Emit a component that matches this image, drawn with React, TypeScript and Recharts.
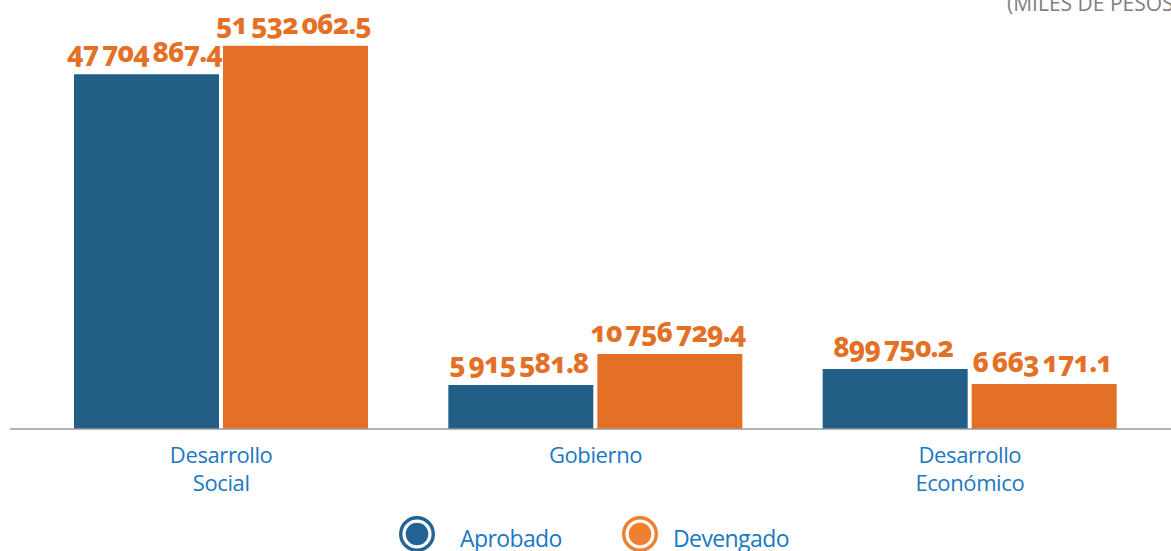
import React from 'react';
import { BarChart, Bar, XAxis, YAxis, LabelList } from 'recharts';

// Categories (x-axis), each split into its printed lines
const categories = ['Desarrollo\nSocial', 'Gobierno', 'Desarrollo\nEconómico'];
// Values printed above the bars (miles de pesos)
const aprobadoValues = [47704867.4, 5915581.8, 899750.2];
const devengadoValues = [51532062.5, 10756729.4, 6663171.1];
// Bar heights as drawn in the reference figure (the source does not draw every bar to scale)
const aprobadoBarHeights = [47704867.4, 5915581.8, 8080000];
const devengadoBarHeights = [51532062.5, 10090000, 6060000];
const seriesNames = ['Aprobado', 'Devengado'];
const unitLabel = '(MILES DE PESOS)';
const yDomainMax = 55000000;

const BLUE = '#235e87';
const ORANGE = '#e37025';
const LEGEND_BLUE = '#236494';
const LEGEND_ORANGE = '#f07f2f';
const TEXT_BLUE = '#1b78c2';

const fmt = (v: number) => {
  const [i, d] = v.toFixed(1).split('.');
  return i.replace(/\B(?=(\d{3})+(?!\d))/g, '\u2009') + '.' + d;
};

const data = categories.map((c, i) => ({
  name: c,
  aprobado: aprobadoBarHeights[i],
  devengado: devengadoBarHeights[i],
  aprobadoLabel: fmt(aprobadoValues[i]),
  devengadoLabel: fmt(devengadoValues[i]),
}));

const ValueLabel = (props: any) => {
  const { x, y, width, value } = props;
  return (
    <text
      x={x + width / 2 - 2}
      y={y - 12}
      textAnchor="middle"
      fill={ORANGE}
      fontFamily="'Noto Sans', 'Open Sans', sans-serif"
      fontWeight={800}
      fontSize={28}
      letterSpacing={-1}
      style={{ fontFeatureSettings: "'onum' 1", fontVariantNumeric: 'oldstyle-nums' }}
    >
      {value}
    </text>
  );
};

const CategoryTick = (props: any) => {
  const { x, y, payload } = props;
  const lines = String(payload.value).split('\n');
  return (
    <g>
      {lines.map((l, i) => (
        <text
          key={i}
          x={x}
          y={y + 26 + i * 28}
          textAnchor="middle"
          fill={TEXT_BLUE}
          fontFamily="'Open Sans', sans-serif"
          fontSize={22}
          letterSpacing={-0.4}
        >
          {l}
        </text>
      ))}
    </g>
  );
};

const LegendItem = ({ color, label, cx, tx }: { color: string; label: string; cx: number; tx: number }) => (
  <>
    <svg style={{ position: 'absolute', left: cx - 19, top: 534 - 19 }} width={38} height={38}>
      <circle cx={19} cy={19} r={16.3} fill="#fff" stroke={color} strokeWidth={3.4} />
      <circle cx={19} cy={19} r={11.3} fill={color} />
    </svg>
    <div
      style={{
        position: 'absolute',
        left: tx,
        top: 523,
        fontFamily: "'Open Sans', sans-serif",
        fontSize: 23,
        letterSpacing: -0.6,
        color: TEXT_BLUE,
        lineHeight: '30px',
        whiteSpace: 'nowrap',
      }}
    >
      {label}
    </div>
  </>
);

export default function App() {
  return (
    <div style={{ position: 'relative', width: 1171, height: 551, overflow: 'hidden', background: '#fff' }}>
      <style>{'body{margin:0}'}</style>
      <BarChart
        width={1171}
        height={551}
        data={data}
        margin={{ top: 20, right: 0, left: 10, bottom: 62 }}
        barGap={4}
        barSize={145}
      >
        <XAxis
          dataKey="name"
          axisLine={{ stroke: '#9a9a9a', strokeWidth: 1.5 }}
          tickLine={false}
          padding={{ left: 24, right: 14 }}
          height={60}
          interval={0}
          tick={<CategoryTick />}
        />
        <YAxis hide domain={[0, yDomainMax]} />
        <Bar dataKey="aprobado" name={seriesNames[0]} fill={BLUE} isAnimationActive={false}>
          <LabelList dataKey="aprobadoLabel" content={<ValueLabel />} />
        </Bar>
        <Bar dataKey="devengado" name={seriesNames[1]} fill={ORANGE} isAnimationActive={false}>
          <LabelList dataKey="devengadoLabel" content={<ValueLabel />} />
        </Bar>
      </BarChart>
      <div
        style={{
          position: 'absolute',
          left: 1007,
          top: -11,
          fontFamily: "'Open Sans', sans-serif",
          fontSize: 21,
          color: '#808080',
          whiteSpace: 'nowrap',
        }}
      >
        {unitLabel}
      </div>
      <LegendItem color={LEGEND_BLUE} label={seriesNames[0]} cx={417} tx={460} />
      <LegendItem color={LEGEND_ORANGE} label={seriesNames[1]} cx={640} tx={673} />
    </div>
  );
}
